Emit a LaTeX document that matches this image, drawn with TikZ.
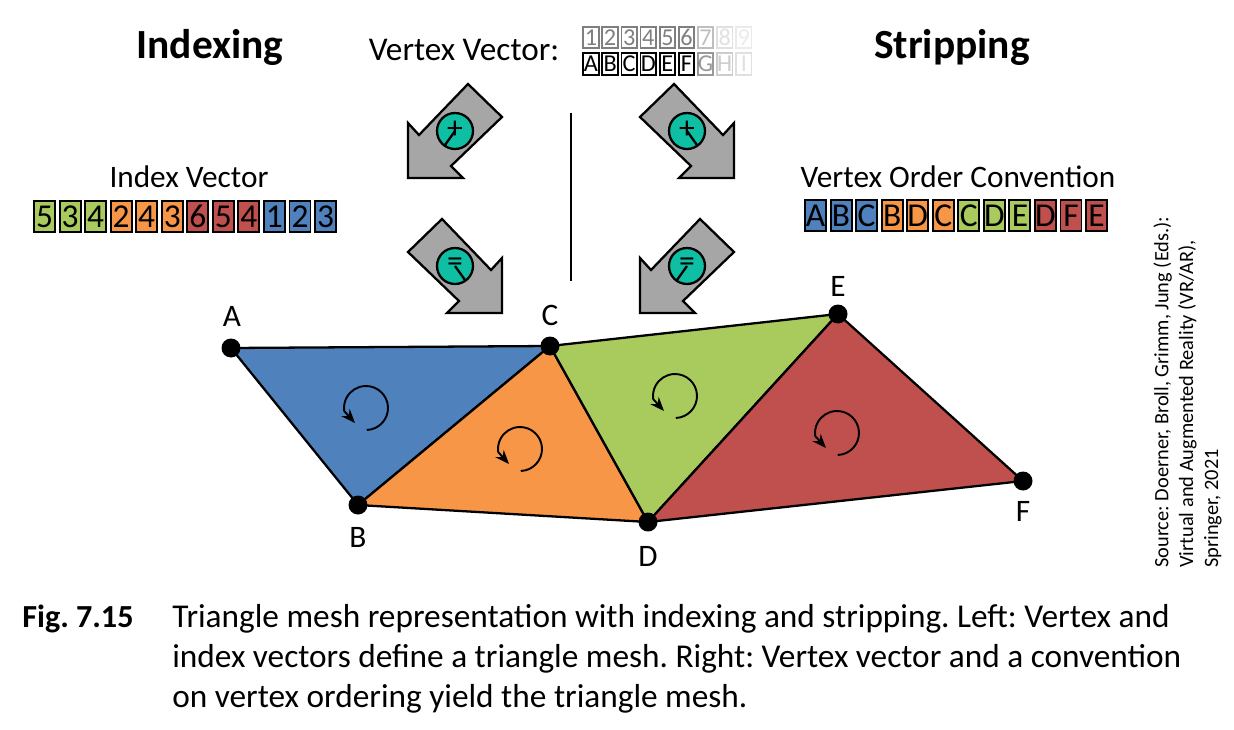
\documentclass[tikz,border=0pt]{standalone}
\usepackage{fontspec}
\setmainfont{Carlito}
\frenchspacing
\usetikzlibrary{arrows.meta,positioning,calc}
\definecolor{meshblue}{HTML}{4F81BD}
\definecolor{meshorange}{HTML}{F79646}
\definecolor{meshgreen}{HTML}{A9CB5E}
\definecolor{meshred}{HTML}{C0504D}
\definecolor{opgray}{HTML}{A6A6A6}
\definecolor{opteal}{HTML}{0FBFA3}
\newcommand{\fs}[1]{\fontsize{#1}{#1}\selectfont}
\tikzset{title/.style={font=\fs{23.6}\bfseries,inner sep=0pt},label/.style={font=\fs{17.8},inner sep=0pt},cell/.style={draw=black,line width=1.1pt,minimum width=.42cm,minimum height=.62cm,inner sep=0pt,font=\fs{19}},vcell/.style={draw=black,line width=1pt,minimum width=.31cm,minimum height=.43cm,inner sep=0pt,font=\fs{13.8}},tri/.style={draw=black,line width=1.3pt,line join=round},dot/.style={circle,fill=black,minimum size=.38cm,inner sep=0pt},turn/.style={-{Stealth[length=2.8mm,width=2.2mm]},line width=1.1pt},opblock/.pic={\draw[line width=1.3pt,fill=opgray,miter limit=10] (13,-47)--(47,-14)--(-4,35)--(8,47)--(-47,47)--(-47,-8)--(-36,4)--cycle;\node[circle,draw=black,fill=opteal,line width=1.3pt,minimum size=.72cm,inner sep=0pt] (-disc) at (0,0) {};\node[inner sep=0pt,font=\fs{18}] (-sign) at (0,-1) {\tikzpictext};\draw[line width=1.3pt] (0,0)--(-10,14);}}
\begin{document}
\begin{tikzpicture}[x=.02cm,y=-.02cm]
\useasboundingbox (0,0) rectangle (1234,730);
\node[title] (indexing) at (210,47) {Indexing};
\node[title] (stripping) at (952,47) {Stripping};
\node[label,font=\fs{18.9}] (vvec) at (464,50) {Vertex Vector:};
\node[label] (ivec) at (189,177) {Index Vector};
\node[label] (conv) at (958,177) {Vertex Order Convention};
% vertex vector
\foreach \t/\o [count=\i from 0] in {1/50,2/50,3/50,4/50,5/50,6/50,7/25,8/12,9/8}{\node[vcell,draw opacity=\o/100,text opacity=\o/100] (num\i) at (591+19.1*\i,37.5) {\t};}
\foreach \t/\o [count=\i from 0] in {A/100,B/100,C/100,D/100,E/100,F/100,G/40,H/20,I/12}{\node[vcell,draw opacity=\o/100,text opacity=\o/100,minimum height=.45cm] (vtx\i) at (591+19.1*\i,64) {\t};}
% index vector and order convention
\foreach \t/\c [count=\i from 0] in {5/meshgreen,3/meshgreen,4/meshgreen,2/meshorange,4/meshorange,3/meshorange,6/meshred,5/meshred,4/meshred,1/meshblue,2/meshblue,3/meshblue}{\node[cell,fill=\c] (idx\i) at (44.5+25.55*\i,216.5) {\t};}
\foreach \t/\c [count=\i from 0] in {A/meshblue,B/meshblue,C/meshblue,B/meshorange,D/meshorange,C/meshorange,C/meshgreen,D/meshgreen,E/meshgreen,D/meshred,F/meshred,E/meshred}{\node[cell,fill=\c] (ord\i) at (815.5+25.55*\i,215.5) {\t};}
% operators
\pic[pic text=+] (opa) at (455,131) {opblock};
\pic[pic text=+,xscale=-1] (opb) at (687,131) {opblock};
\pic[pic text={=},xscale=-1] (opc) at (455,266) {opblock};
\pic[pic text={=}] (opd) at (687,266) {opblock};
\coordinate (divtop) at (571,113);\coordinate (divbot) at (571,281);
\draw[line width=1.2pt] (divtop)--(divbot);
% mesh
\coordinate (A) at (231,348);\coordinate (B) at (358,505);\coordinate (C) at (550,346);\coordinate (D) at (648,522);\coordinate (E) at (838,314);\coordinate (F) at (1023,481);
\draw[tri,fill=meshblue] (A)--(B)--(C)--cycle;
\draw[tri,fill=meshorange] (B)--(D)--(C)--cycle;
\draw[tri,fill=meshgreen] (C)--(D)--(E)--cycle;
\draw[tri,fill=meshred] (D)--(F)--(E)--cycle;
\foreach \c/\l/\lx/\ly in {A/a/232/316,B/b/358/537,C/c/550/315,D/d/648/556,E/e/838/286,F/f/1023/511}{\node[dot] (dot\l) at (\c) {};\node[label] (lab\l) at (\lx,\ly) {\c};}
\coordinate (ta) at (366,408);\coordinate (tb) at (520,449);\coordinate (tc) at (675,396);\coordinate (td) at (837,433);
\foreach \c in {ta,tb,tc,td}{\draw[turn] ($(\c)+(-88:.44cm)$) arc[start angle=-88,end angle=188,radius=.44cm] -- ($(\c)+(-11,15)$);}
% source and caption
\node[rotate=90,anchor=north west,align=left,inner sep=0pt,font=\fontsize{11.6}{14.2}\selectfont] (source) at (1153,568) {Source: Doerner, Broll, Grimm, Jung (Eds.):\\Virtual and Augmented Reality (VR/AR),\\Springer, 2021};
\node[anchor=base west,inner sep=0pt,font=\fs{18.3}\bfseries] (fig) at (22,627) {Fig. 7.15};
\node[anchor=north west,align=left,inner sep=0pt,font=\fontsize{18.95}{22.8}\selectfont] (caption) at (172,604) {Triangle mesh representation with indexing and stripping. Left: Vertex and\\index vectors define a triangle mesh. Right: Vertex vector and a convention\\on vertex ordering yield the triangle mesh.};
\end{tikzpicture}
\end{document}
